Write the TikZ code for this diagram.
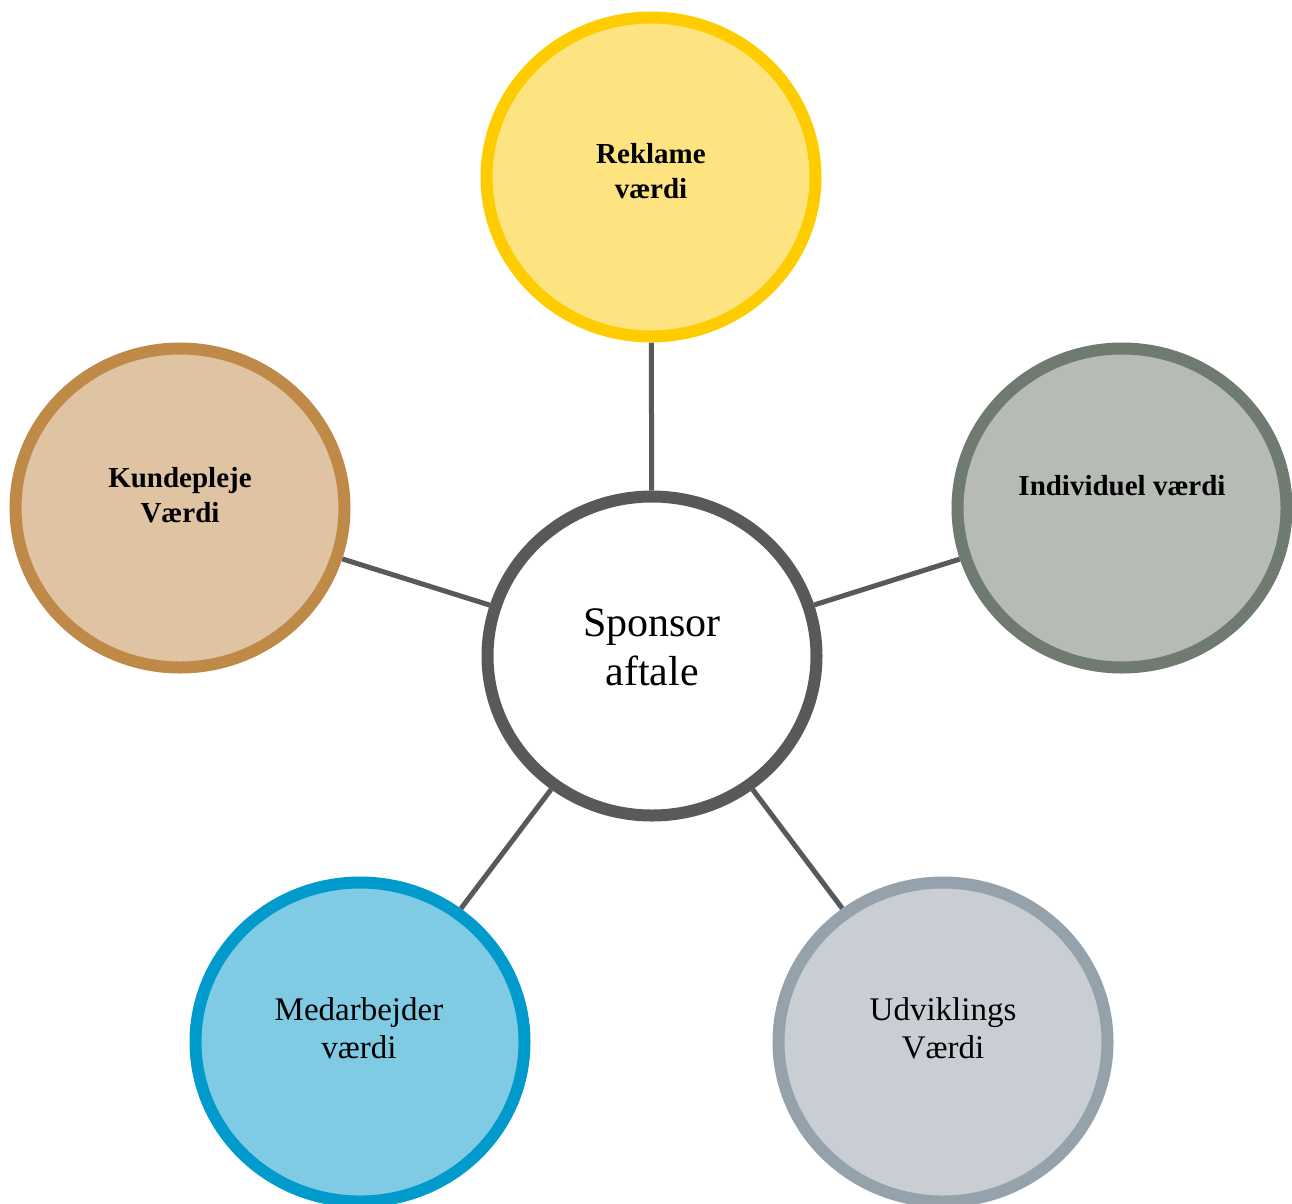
\documentclass[tikz,border=0pt]{standalone}
\usepackage{fontspec}
\setmainfont{Liberation Serif}
\usetikzlibrary{shapes.geometric,backgrounds}
\definecolor{cgray}{HTML}{58595B}
\definecolor{yborder}{HTML}{FFCC00}
\definecolor{yfill}{HTML}{FDE481}
\definecolor{bborder}{HTML}{BF8A48}
\definecolor{bfill}{HTML}{DFC3A3}
\definecolor{gborder}{HTML}{6F7B70}
\definecolor{gfill}{HTML}{B6BCB5}
\definecolor{lborder}{HTML}{009BCC}
\definecolor{lfill}{HTML}{7FCBE4}
\definecolor{sborder}{HTML}{95A1AB}
\definecolor{sfill}{HTML}{C8CED3}
\tikzset{
  bubble/.style={ellipse, line width=12pt, minimum width=329pt, minimum height=319pt, inner sep=0pt},
  boldlabel/.style={font=\fontsize{29}{35}\selectfont\bfseries, align=center, anchor=base, inner sep=0pt},
  plainlabel/.style={font=\fontsize{33}{38}\selectfont, align=center, anchor=base, inner sep=0pt},
  biglabel/.style={font=\fontsize{42}{49}\selectfont, align=center, anchor=base, inner sep=0pt},
  spoke/.style={line width=5pt, draw=cgray}
}
\begin{document}
\begin{tikzpicture}[x=1pt,y=-1pt]
\useasboundingbox (0,0) rectangle (1292,1203);
\node[bubble, draw=cgray, fill=white] (c) at (652,656) {};
\node[bubble, draw=yborder, fill=yfill] (t) at (651,177) {};
\node[bubble, draw=bborder, fill=bfill] (l) at (180,508) {};
\node[bubble, draw=gborder, fill=gfill] (r) at (1122,508) {};
\node[bubble, draw=lborder, fill=lfill] (bl) at (360,1042) {};
\node[bubble, draw=sborder, fill=sfill] (br) at (943,1042) {};
\begin{scope}[on background layer]
\draw[spoke] (c) -- (t);
\draw[spoke] (c) -- (l);
\draw[spoke] (c) -- (r);
\draw[spoke] (c) -- (bl);
\draw[spoke] (c) -- (br);
\end{scope}
\node[biglabel] (ct) at (652,685) {Sponsor\\aftale};
\node[boldlabel] (tt) at (651,198) {Reklame\\værdi};
\node[boldlabel] (lt) at (180,522) {Kundepleje\\Værdi};
\node[boldlabel] (rt) at (1122,495) {Individuel værdi};
\node[plainlabel] (blt) at (359,1058) {Medarbejder\\værdi};
\node[plainlabel] (brt) at (943,1058) {Udviklings\\Værdi};
\end{tikzpicture}
\end{document}
